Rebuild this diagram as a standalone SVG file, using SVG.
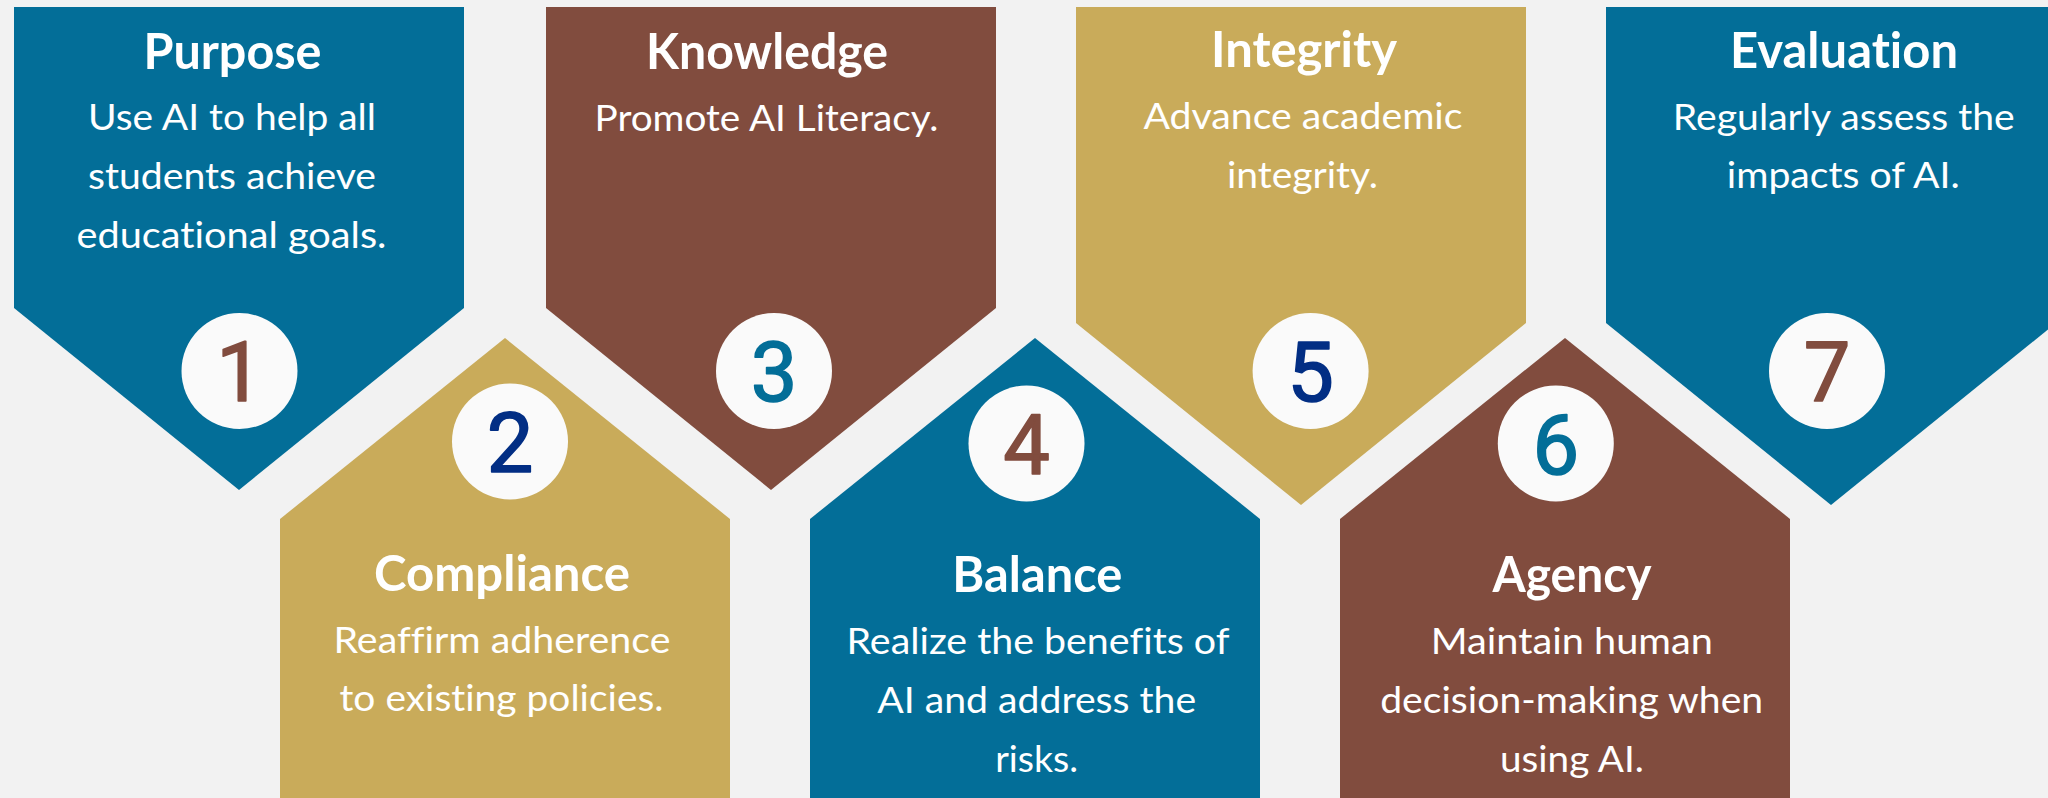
<svg xmlns="http://www.w3.org/2000/svg" width="2048" height="798" viewBox="0 0 2048 798">
<style>
.blue{fill:#036E98}
.brown{fill:#814C3E}
.gold{fill:#C9AB5A}
.circ{fill:#FAFAFA}
.title{font-family:Lato,"Liberation Sans",sans-serif;font-weight:700;font-size:49px;fill:#FFFFFF;text-anchor:middle;font-variant-ligatures:none}
.body{font-family:Lato,"Liberation Sans",sans-serif;font-weight:400;font-size:37px;fill:#FFFFFF;text-anchor:middle;font-variant-ligatures:none}
.num{font-family:Roboto,"Liberation Sans",sans-serif;font-weight:400;font-size:83px;text-anchor:middle;stroke-width:1.6;stroke-linejoin:round}
.nb{fill:#814C3E;stroke:#814C3E}
.nn{fill:#022E84;stroke:#022E84}
.nl{fill:#036E98;stroke:#036E98}
</style>
<rect x="0" y="0" width="2048" height="798" fill="#F2F2F2"/>

<g id="node-purpose">
<polygon class="blue" points="14,7 464,7 464,308 239,490 14,308"/>
<text class="title" x="232.5" y="69" textLength="178" lengthAdjust="spacingAndGlyphs">Purpose</text>
<text class="body" x="232" y="130" textLength="288" lengthAdjust="spacingAndGlyphs">Use AI to help all</text>
<text class="body" x="232" y="189" textLength="288" lengthAdjust="spacingAndGlyphs">students achieve</text>
<text class="body" x="231.5" y="248" textLength="310" lengthAdjust="spacingAndGlyphs">educational goals.</text>
<circle class="circ" cx="239.5" cy="371" r="58"/>
<text class="num nb" x="239.5" y="401">1</text>
</g>

<g id="node-compliance">
<polygon class="gold" points="280,519 505,338 730,519 730,798 280,798"/>
<circle class="circ" cx="510" cy="441.5" r="58"/>
<text class="num nn" x="510" y="471.5">2</text>
<text class="title" x="502" y="591" textLength="256" lengthAdjust="spacingAndGlyphs">Compliance</text>
<text class="body" x="502" y="652.5" textLength="337" lengthAdjust="spacingAndGlyphs">Reaffirm adherence</text>
<text class="body" x="501.5" y="711" textLength="324" lengthAdjust="spacingAndGlyphs">to existing policies.</text>
</g>

<g id="node-knowledge">
<polygon class="brown" points="546,7 996,7 996,308 771,490 546,308"/>
<text class="title" x="767" y="69" textLength="242" lengthAdjust="spacingAndGlyphs">Knowledge</text>
<text class="body" x="766.5" y="131" textLength="344" lengthAdjust="spacingAndGlyphs">Promote AI Literacy.</text>
<circle class="circ" cx="774" cy="371" r="58"/>
<text class="num nl" x="774" y="401">3</text>
</g>

<g id="node-balance">
<polygon class="blue" points="810,519 1035,338 1260,519 1260,798 810,798"/>
<circle class="circ" cx="1026.5" cy="443.5" r="58"/>
<text class="num nb" x="1026.5" y="473.5">4</text>
<text class="title" x="1037.3" y="592" textLength="170" lengthAdjust="spacingAndGlyphs">Balance</text>
<text class="body" x="1038" y="654" textLength="383" lengthAdjust="spacingAndGlyphs">Realize the benefits of</text>
<text class="body" x="1036.7" y="712.7" textLength="319" lengthAdjust="spacingAndGlyphs">AI and address the</text>
<text class="body" x="1036.7" y="772" textLength="83" lengthAdjust="spacingAndGlyphs">risks.</text>
</g>

<g id="node-integrity">
<polygon class="gold" points="1076,7 1526,7 1526,323 1301,505 1076,323"/>
<text class="title" x="1304" y="67" textLength="186" lengthAdjust="spacingAndGlyphs">Integrity</text>
<text class="body" x="1303" y="129" textLength="319" lengthAdjust="spacingAndGlyphs">Advance academic</text>
<text class="body" x="1302.5" y="188.3" textLength="151" lengthAdjust="spacingAndGlyphs">integrity.</text>
<circle class="circ" cx="1310.6" cy="371" r="58"/>
<text class="num nn" x="1310.6" y="401">5</text>
</g>

<g id="node-agency">
<polygon class="brown" points="1340,519 1565,338 1790,519 1790,798 1340,798"/>
<circle class="circ" cx="1555.8" cy="443.5" r="58"/>
<text class="num nl" x="1555.8" y="473.5">6</text>
<text class="title" x="1572" y="592" textLength="159" lengthAdjust="spacingAndGlyphs">Agency</text>
<text class="body" x="1571.8" y="654" textLength="282" lengthAdjust="spacingAndGlyphs">Maintain human</text>
<text class="body" x="1571.7" y="712.7" textLength="383" lengthAdjust="spacingAndGlyphs">decision-making when</text>
<text class="body" x="1572" y="772" textLength="144" lengthAdjust="spacingAndGlyphs">using AI.</text>
</g>

<g id="node-evaluation">
<polygon class="blue" points="1606,7 2056,7 2056,323 1831,505 1606,323"/>
<text class="title" x="1844" y="68.3" textLength="228" lengthAdjust="spacingAndGlyphs">Evaluation</text>
<text class="body" x="1843.8" y="130" textLength="342" lengthAdjust="spacingAndGlyphs">Regularly assess the</text>
<text class="body" x="1843.3" y="188.3" textLength="233" lengthAdjust="spacingAndGlyphs">impacts of AI.</text>
<circle class="circ" cx="1827" cy="371" r="58"/>
<text class="num nb" x="1827" y="401">7</text>
</g>
</svg>
